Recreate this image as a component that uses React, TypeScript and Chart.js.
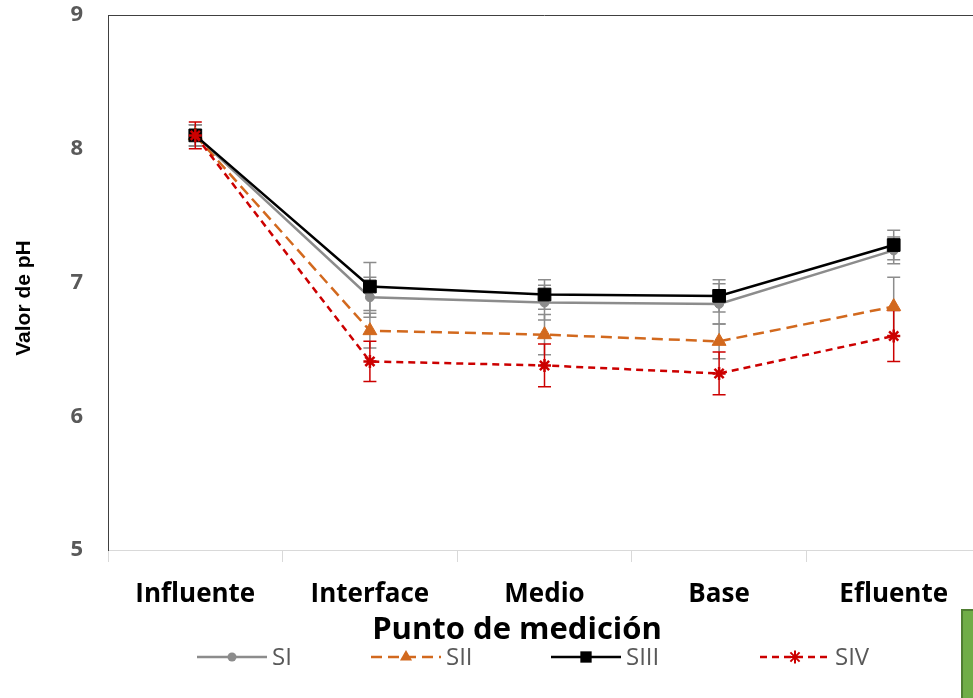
import React, { useEffect, useRef } from "react";
import { Chart, registerables } from "chart.js";

Chart.register(...registerables);

const categories = ["Influente", "Interface", "Medio", "Base", "Efluente"];
const seriesNames = ["SI", "SII", "SIII", "SIV"];
const SI = [8.1, 6.89, 6.85, 6.84, 7.24];
const SII = [8.1, 6.64, 6.61, 6.56, 6.82];
const SIII = [8.1, 6.97, 6.91, 6.9, 7.28];
const SIV = [8.1, 6.41, 6.38, 6.32, 6.6];
const SI_err = [0.08, 0.15, 0.13, 0.15, 0.1];
const SII_err = [0.08, 0.13, 0.15, 0.13, 0.22];
const SIII_err = [0.08, 0.18, 0.11, 0.12, 0.11];
const SIV_err = [0.1, 0.15, 0.16, 0.16, 0.19];
const yTicks = [5, 6, 7, 8, 9];
const xTitle = "Punto de medición";
const yTitle = "Valor de pH";

const FONT = "'Open Sans', Lato, sans-serif";
const ARIAL = "'Liberation Sans', Arial, sans-serif";

const styles = [
  { color: "#8c8c8c", dash: [] as number[], point: "circle", radius: 4.5, err: "#8c8c8c" },
  { color: "#d2691e", dash: [11, 6], point: "triangle", radius: 8, err: "#8c8c8c" },
  { color: "#000000", dash: [] as number[], point: "rect", radius: 9, err: "#8c8c8c" },
  { color: "#cc0000", dash: [7, 5], point: "star", radius: 6.5, err: "#cc0000" },
];

const errors = [SI_err, SII_err, SIII_err, SIV_err];

const errorBarPlugin = {
  id: "errorBars",
  beforeDatasetsDraw(chart: any) {
    const ctx = chart.ctx;
    const yScale = chart.scales.y;
    chart.data.datasets.forEach((ds: any, i: number) => {
      const meta = chart.getDatasetMeta(i);
      const errs = errors[i];
      ctx.save();
      ctx.strokeStyle = styles[i].err;
      ctx.lineWidth = 1.5;
      ctx.setLineDash([]);
      meta.data.forEach((pt: any, j: number) => {
        const v = ds.data[j];
        const e = errs[j];
        const yTop = yScale.getPixelForValue(v + e);
        const yBot = yScale.getPixelForValue(v - e);
        const x = pt.x;
        ctx.beginPath();
        ctx.moveTo(x, yTop);
        ctx.lineTo(x, yBot);
        ctx.moveTo(x - 6.5, yTop);
        ctx.lineTo(x + 6.5, yTop);
        ctx.moveTo(x - 6.5, yBot);
        ctx.lineTo(x + 6.5, yBot);
        ctx.stroke();
      });
      ctx.restore();
    });
  },
};

function drawMarker(ctx: CanvasRenderingContext2D, style: string, x: number, y: number, r: number, color: string) {
  ctx.save();
  ctx.fillStyle = color;
  ctx.strokeStyle = color;
  ctx.setLineDash([]);
  ctx.beginPath();
  if (style === "circle") {
    ctx.arc(x, y, r, 0, Math.PI * 2);
    ctx.fill();
  } else if (style === "rect") {
    const s = Math.SQRT1_2 * r;
    ctx.fillRect(x - s, y - s, 2 * s, 2 * s);
  } else if (style === "triangle") {
    ctx.moveTo(x, y - r);
    ctx.lineTo(x + r * 0.866, y + r * 0.5);
    ctx.lineTo(x - r * 0.866, y + r * 0.5);
    ctx.closePath();
    ctx.fill();
  } else if (style === "star") {
    ctx.lineWidth = 2;
    for (let k = 0; k < 4; k++) {
      const a = (k * Math.PI) / 4;
      ctx.moveTo(x - Math.cos(a) * r, y - Math.sin(a) * r);
      ctx.lineTo(x + Math.cos(a) * r, y + Math.sin(a) * r);
    }
    ctx.stroke();
  }
  ctx.restore();
}

const legendStarts = [197, 371, 551, 760];

const framePlugin = {
  id: "frameAndLegend",
  afterDraw(chart: any) {
    const ctx = chart.ctx;
    const { left, right, top } = chart.chartArea;
    ctx.save();
    ctx.strokeStyle = "#404040";
    ctx.lineWidth = 1;
    ctx.beginPath();
    ctx.moveTo(left, top + 0.5);
    ctx.lineTo(right, top + 0.5);
    ctx.stroke();

    // axis titles
    ctx.fillStyle = "#000";
    ctx.textAlign = "center";
    ctx.textBaseline = "middle";
    ctx.font = `bold 31px ${FONT}`;
    ctx.fillText(xTitle, 517, 630);
    ctx.save();
    ctx.translate(24, 298);
    ctx.rotate(-Math.PI / 2);
    ctx.font = `bold 21px ${ARIAL}`;
    ctx.fillText(yTitle, 0, 0);
    ctx.restore();

    // legend
    const y = 657;
    seriesNames.forEach((name, i) => {
      const st = styles[i];
      const x0 = legendStarts[i];
      ctx.save();
      ctx.strokeStyle = st.color;
      ctx.lineWidth = 2.5;
      ctx.setLineDash(st.dash);
      ctx.beginPath();
      ctx.moveTo(x0, y);
      ctx.lineTo(x0 + 70, y);
      ctx.stroke();
      ctx.restore();
      drawMarker(ctx, st.point, x0 + 35, y, st.point === "rect" ? 8 : st.point === "triangle" ? 7 : st.radius, st.color);
      ctx.fillStyle = "#595959";
      ctx.font = `24px ${FONT}`;
      ctx.textBaseline = "middle";
      ctx.textAlign = "left";
      ctx.fillText(name, x0 + 75, y + 1);
    });
    ctx.restore();
  },
};

export default function App() {
  const canvasRef = useRef<HTMLCanvasElement>(null);

  useEffect(() => {
    document.body.style.margin = "0";
    document.body.style.overflow = "hidden";
    const canvas = canvasRef.current!;
    const seriesData = [SI, SII, SIII, SIV];
    const chart = new Chart(canvas, {
      type: "line",
      data: {
        labels: categories,
        datasets: seriesData.map((d, i) => ({
          label: seriesNames[i],
          data: d,
          borderColor: styles[i].color,
          backgroundColor: styles[i].color,
          borderWidth: 2.5,
          borderDash: styles[i].dash,
          pointStyle: styles[i].point as any,
          pointRadius: styles[i].radius,
          pointBorderWidth: styles[i].point === "star" ? 2.5 : 1,
          pointBackgroundColor: styles[i].color,
          pointBorderColor: styles[i].color,
          tension: 0,
          fill: false,
          order: 3 - i,
        })),
      },
      options: {
        responsive: false,
        animation: false,
        layout: { padding: { top: 15, right: 1, left: 0, bottom: 51 } },
        plugins: {
          legend: { display: false },
          tooltip: { enabled: false },
        },
        scales: {
          x: {
            type: "category",
            offset: true,
            afterFit: (s: any) => {
              s.height = 97;
              s.paddingLeft = 0;
              s.paddingRight = 0;
            },
            grid: {
              offset: true,
              drawOnChartArea: false,
              drawTicks: true,
              tickLength: 12,
              color: "#d9d9d9",
            },
            border: { color: "#d9d9d9", width: 1 },
            ticks: {
              color: "#000",
              font: { family: FONT, size: 26, weight: "bold" },
              padding: 17,
              maxRotation: 0,
            },
          },
          y: {
            min: 5,
            max: 9,
            afterFit: (s: any) => {
              s.width = 108;
              s.paddingTop = 0;
              s.paddingBottom = 0;
            },
            afterBuildTicks: (s: any) => {
              s.ticks = yTicks.map((v) => ({ value: v }));
            },
            grid: { display: false, drawTicks: false },
            border: { color: "#404040", width: 1 },
            ticks: {
              color: "#595959",
              font: { family: FONT, size: 22, weight: "bold" },
              padding: 25,
            },
          },
        },
      },
      plugins: [errorBarPlugin, framePlugin],
    });
    return () => chart.destroy();
  }, []);

  return (
    <div style={{ position: "fixed", left: 0, top: 0, width: 973, height: 698, overflow: "hidden", background: "#fff" }}>
      <canvas ref={canvasRef} width={991} height={698} style={{ display: "block" }} />
      <div
        style={{
          position: "absolute",
          left: 961,
          top: 609,
          width: 20,
          height: 100,
          background: "#70ad47",
          border: "2px solid #507e32",
        }}
      />
    </div>
  );
}
